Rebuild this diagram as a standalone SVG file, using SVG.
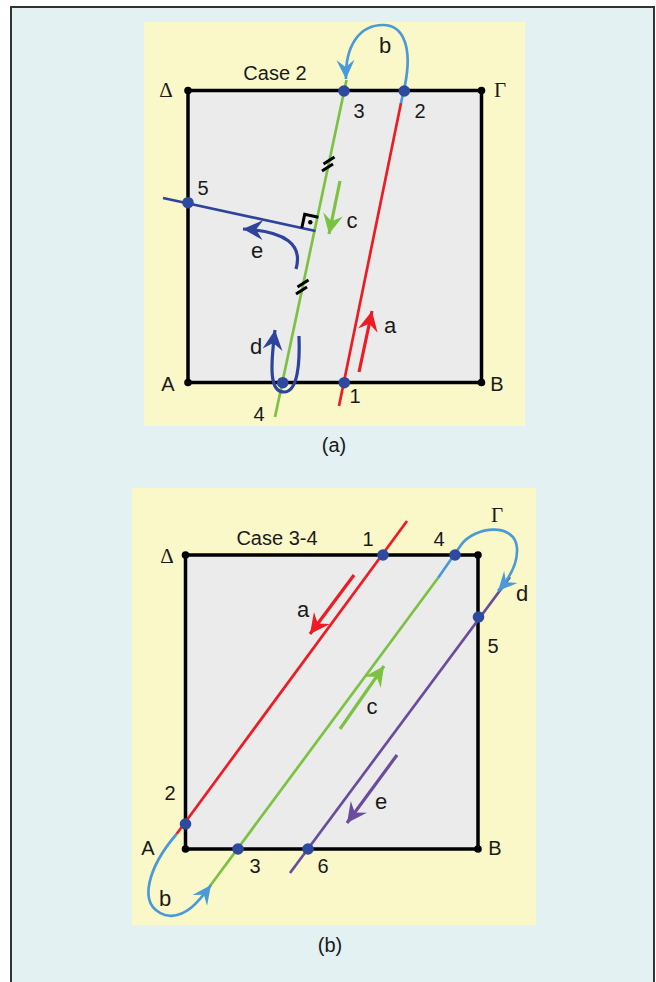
<svg xmlns="http://www.w3.org/2000/svg" width="656" height="982" viewBox="0 0 656 982">
<defs>
<style>
.lbl{font-family:"Liberation Sans",Arial,sans-serif;font-size:20px;fill:#1a1a1a}
.let{font-family:"Liberation Sans",Arial,sans-serif;font-size:22px;fill:#1a1a1a}
.case{font-family:"Liberation Sans",Arial,sans-serif;font-size:20px;fill:#1a1a1a}
.grk{font-family:"Liberation Serif","Times New Roman",serif;font-size:21px;fill:#1a1a1a}
.sq{fill:#ebebeb;stroke:#000;stroke-width:3.5}
.ln{fill:none;stroke-width:2.7;stroke-linecap:butt}
.ar{fill:none;stroke-width:3.2}
.red{stroke:#ed1c24}
.grn{stroke:#7cc242}
.dbl{stroke:#2e439b}
.lbl2{stroke:#4a9ad8}
.pur{stroke:#6a4c9c}
.pt{fill:#2e4a9e}
.cn{fill:#000}
.tk{stroke:#000;stroke-width:3}
</style>
<marker id="mRed" markerUnits="userSpaceOnUse" markerWidth="24" markerHeight="24" viewBox="-22 -12 24 24" refX="0" refY="0" orient="auto"><path d="M0,0 L-20,-10 L-13,0 L-20,10 Z" fill="#ed1c24"/></marker>
<marker id="mGrn" markerUnits="userSpaceOnUse" markerWidth="24" markerHeight="24" viewBox="-22 -12 24 24" refX="0" refY="0" orient="auto"><path d="M0,0 L-20,-10 L-13,0 L-20,10 Z" fill="#7cc242"/></marker>
<marker id="mDbl" markerUnits="userSpaceOnUse" markerWidth="24" markerHeight="24" viewBox="-22 -12 24 24" refX="0" refY="0" orient="auto"><path d="M0,0 L-20,-10 L-13,0 L-20,10 Z" fill="#2e439b"/></marker>
<marker id="mPur" markerUnits="userSpaceOnUse" markerWidth="24" markerHeight="24" viewBox="-22 -12 24 24" refX="0" refY="0" orient="auto"><path d="M0,0 L-20,-10 L-13,0 L-20,10 Z" fill="#6a4c9c"/></marker>
<marker id="mLbl" markerUnits="userSpaceOnUse" markerWidth="24" markerHeight="24" viewBox="-22 -12 24 24" refX="0" refY="0" orient="auto"><path d="M0,0 L-19,-9 L-12,0 L-19,9 Z" fill="#4a9ad8"/></marker>
</defs>
<rect x="11" y="7" width="643" height="990" fill="#e3f1f2" stroke="#333" stroke-width="2"/>
<rect x="144" y="22" width="381" height="404" fill="#faf7c8"/>
<rect x="132" y="488" width="404" height="437" fill="#faf7c8"/>

<!-- Top diagram (a) -->
<g id="squareA"><rect class="sq" x="188" y="90.5" width="293.5" height="292"/></g>
<g id="connectorsA">
<line class="ln grn" x1="346.5" y1="80" x2="275" y2="417"/>
<line class="ln red" x1="401" y1="103" x2="339" y2="406"/>
<path class="ln lbl2" d="M401,103 L405,85 C412,50 405,25 383,25 C360,25 345,45 346,79" marker-end="url(#mLbl)"/>
<line class="ln dbl" x1="163" y1="198" x2="315.5" y2="231"/>
<polyline points="301.8,228 304.7,214.3 318.4,217.3" fill="none" stroke="#000" stroke-width="3"/>
<circle cx="310.3" cy="222.3" r="2.2" fill="#000"/>
<line class="tk" x1="323.5" y1="164" x2="334.5" y2="157"/>
<line class="tk" x1="322" y1="171" x2="333" y2="164"/>
<line class="tk" x1="297.5" y1="287" x2="308.5" y2="280"/>
<line class="tk" x1="296" y1="294" x2="307" y2="287"/>
<line class="ar grn" x1="340" y1="181" x2="329" y2="234" marker-end="url(#mGrn)"/>
<line class="ar red" x1="359" y1="372" x2="372" y2="311" marker-end="url(#mRed)"/>
<path class="ar dbl" d="M296,269 C303,245 286,231 243,229" marker-end="url(#mDbl)"/>
<path class="ar dbl" d="M299,336 C300,362 298,392 284,392 C270,392 270,370 275,330" marker-end="url(#mDbl)"/>
</g>
<g id="pointsA">
<circle class="cn" cx="188" cy="90.5" r="3.8"/><circle class="cn" cx="481.5" cy="90.5" r="3.8"/>
<circle class="cn" cx="188" cy="382.5" r="3.8"/><circle class="cn" cx="481.5" cy="382.5" r="3.8"/>
<circle class="pt" cx="344" cy="91" r="5.8"/>
<circle class="pt" cx="404.3" cy="91" r="5.8"/>
<circle class="pt" cx="188" cy="202.7" r="5.8"/>
<circle class="pt" cx="282.7" cy="382.7" r="5.8"/>
<circle class="pt" cx="344.3" cy="382.7" r="5.8"/>
</g>
<g id="labelsA">
<text class="case" x="275" y="80" text-anchor="middle">Case 2</text>
<text class="grk" x="166" y="97" text-anchor="middle">Δ</text>
<text class="grk" x="500" y="97" text-anchor="middle">Γ</text>
<text class="let" x="385" y="53" text-anchor="middle">b</text>
<text class="lbl" x="359" y="118" text-anchor="middle">3</text>
<text class="lbl" x="420" y="118" text-anchor="middle">2</text>
<text class="lbl" x="203" y="195" text-anchor="middle">5</text>
<text class="let" x="352" y="228" text-anchor="middle">c</text>
<text class="let" x="257" y="258" text-anchor="middle">e</text>
<text class="let" x="390" y="333" text-anchor="middle">a</text>
<text class="let" x="256" y="354" text-anchor="middle">d</text>
<text class="lbl" x="168" y="391" text-anchor="middle">A</text>
<text class="lbl" x="497" y="391" text-anchor="middle">B</text>
<text class="lbl" x="355" y="403" text-anchor="middle">1</text>
<text class="lbl" x="259" y="421" text-anchor="middle">4</text>
<text class="case" x="334" y="452" text-anchor="middle">(a)</text>
</g>

<!-- Bottom diagram (b) -->
<g id="squareB"><rect class="sq" x="185.5" y="555" width="292.5" height="294"/></g>
<g id="connectorsB">
<line class="ln red" x1="407" y1="521" x2="176.6" y2="834"/>
<line class="ln grn" x1="438" y1="578" x2="210" y2="886"/>
<line class="ln pur" x1="510" y1="577" x2="290" y2="873"/>
<path class="ln lbl2" d="M438,578 L461,545 C475,526 515,522 517,548 C518,565 508,580 498,591" marker-end="url(#mLbl)"/>
<path class="ln lbl2" d="M176.6,834 C150,865 135,905 165,915 C185,920 200,900 211,885" marker-end="url(#mLbl)"/>
<line class="ar red" x1="354" y1="575" x2="310" y2="634" marker-end="url(#mRed)"/>
<line class="ar grn" x1="340" y1="729" x2="384" y2="666" marker-end="url(#mGrn)"/>
<line class="ar pur" x1="397" y1="755" x2="347" y2="823" marker-end="url(#mPur)"/>
</g>
<g id="pointsB">
<circle class="cn" cx="185.5" cy="555" r="3.8"/><circle class="cn" cx="478" cy="555" r="3.8"/>
<circle class="cn" cx="185.5" cy="849" r="3.8"/><circle class="cn" cx="478" cy="849" r="3.8"/>
<circle class="pt" cx="383" cy="555" r="5.8"/>
<circle class="pt" cx="455" cy="555" r="5.8"/>
<circle class="pt" cx="478.5" cy="617" r="5.8"/>
<circle class="pt" cx="185.5" cy="824" r="5.8"/>
<circle class="pt" cx="238" cy="849" r="5.8"/>
<circle class="pt" cx="308" cy="849" r="5.8"/>
</g>
<g id="labelsB">
<text class="case" x="277" y="545" text-anchor="middle">Case 3-4</text>
<text class="lbl" x="368" y="546" text-anchor="middle">1</text>
<text class="lbl" x="439" y="546" text-anchor="middle">4</text>
<text class="grk" x="167" y="563" text-anchor="middle">Δ</text>
<text class="grk" x="497" y="522" text-anchor="middle">Γ</text>
<text class="let" x="522" y="601" text-anchor="middle">d</text>
<text class="let" x="303" y="617" text-anchor="middle">a</text>
<text class="lbl" x="493" y="653" text-anchor="middle">5</text>
<text class="let" x="372" y="714" text-anchor="middle">c</text>
<text class="lbl" x="170" y="800" text-anchor="middle">2</text>
<text class="let" x="381" y="809" text-anchor="middle">e</text>
<text class="lbl" x="148" y="855" text-anchor="middle">A</text>
<text class="lbl" x="495" y="855" text-anchor="middle">B</text>
<text class="lbl" x="255" y="873" text-anchor="middle">3</text>
<text class="lbl" x="323" y="873" text-anchor="middle">6</text>
<text class="let" x="165" y="906" text-anchor="middle">b</text>
<text class="case" x="330" y="952" text-anchor="middle">(b)</text>
</g>
</svg>
